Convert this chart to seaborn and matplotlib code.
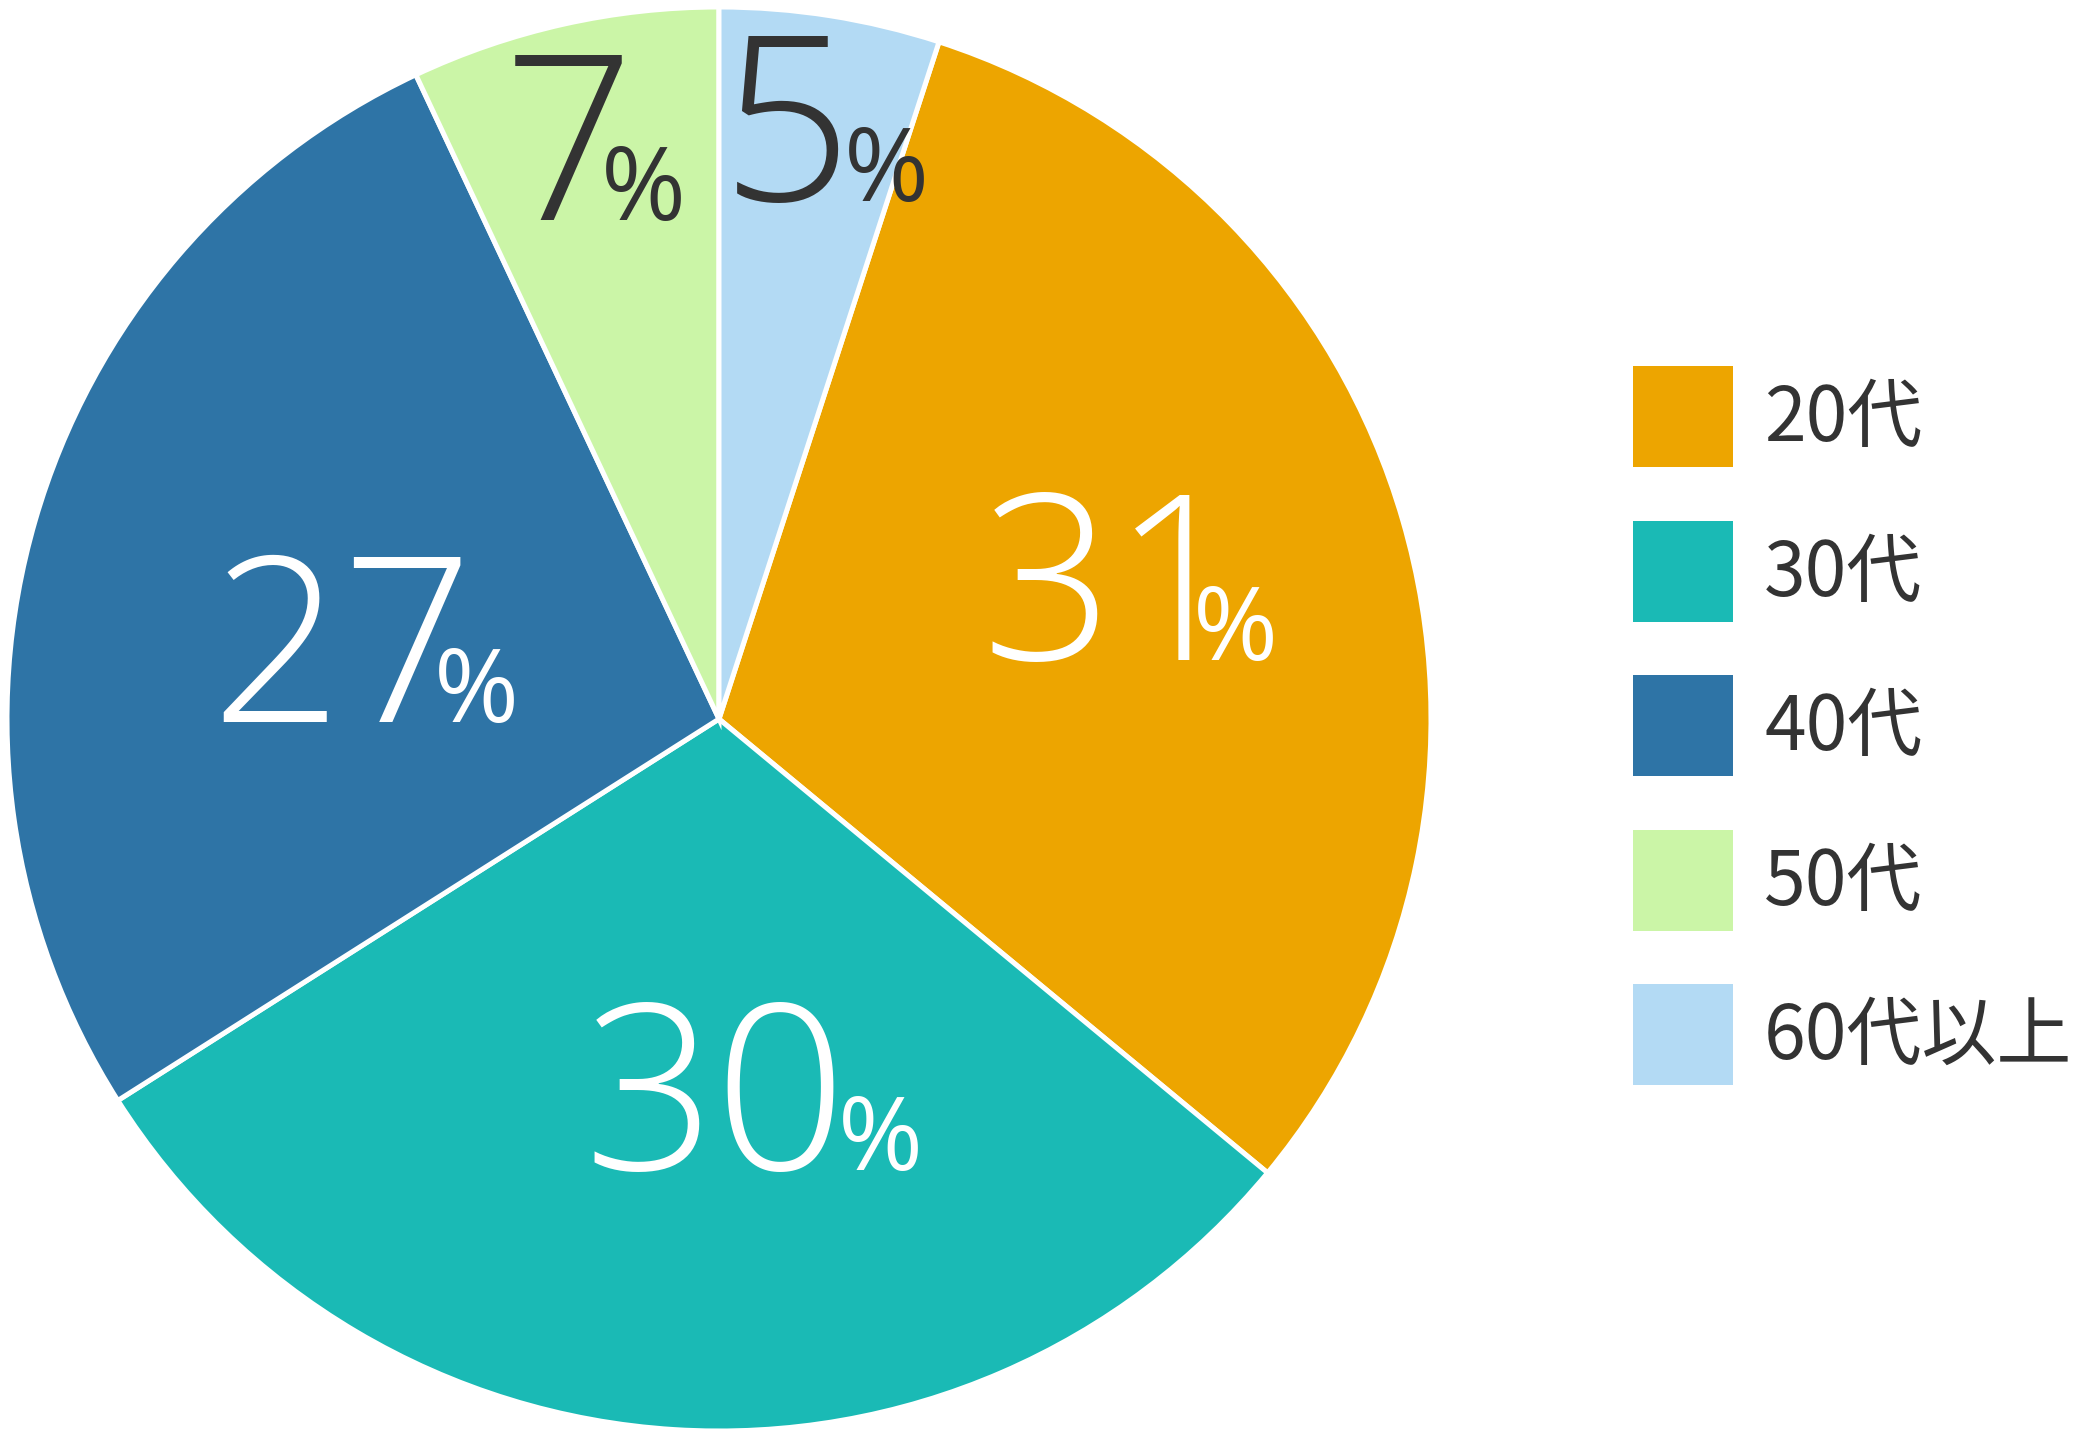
import matplotlib
matplotlib.use("Agg")
import matplotlib.pyplot as plt
from matplotlib.patches import Patch
import seaborn as sns
import numpy as np

# data
labels = ["20代", "30代", "40代", "50代", "60代以上"]
shares = [31, 30, 27, 7, 5]
colors = ["#EDA500", "#1ABAB5", "#2E74A6", "#CBF5A7", "#B3DAF4"]
text_colors = ["white", "white", "white", "#333333", "#333333"]
# label radius (fraction of pie radius), angle nudge in degrees, gap number -> % (px)
label_r = [0.61, 0.52, 0.51, 0.835, 0.857]
label_nudge = [2.8, 8.9, 3.6, -0.5, -1.0]
label_gap = [-52, -8, -39, -34, -9]

sns.set_theme(style="white")
plt.rcParams["font.family"] = ["Noto Sans CJK JP", "DejaVu Sans"]

W, H = 2091, 1438
fig = plt.figure(figsize=(W / 100, H / 100), dpi=100)
# pie axes: circle centre (719, 719) px, radius 712 px
cx, cy, R = 719, 719, 712
ax = fig.add_axes([(cx - R) / W, (H - cy - R) / H, 2 * R / W, 2 * R / H])

start = 90 - shares[-1] * 3.6
wedges, _ = ax.pie(shares, colors=colors, startangle=start, counterclock=False,
                   radius=1, wedgeprops=dict(edgecolor="white", linewidth=3.6))
ax.set_xlim(-1, 1)
ax.set_ylim(-1, 1)
ax.set_aspect("equal")
ax.axis("off")

num_size = 166
pct_size = 74
cap = 165 / R   # digit cap height in data units

texts = []
for i, w in enumerate(wedges):
    mid = np.deg2rad((w.theta1 + w.theta2) / 2 + label_nudge[i])
    x = label_r[i] * np.cos(mid)
    y = label_r[i] * np.sin(mid)
    base = y - cap / 2
    t1 = ax.text(x, base, str(shares[i]), ha="right", va="baseline", family="Open Sans",
                 fontsize=num_size, color=text_colors[i], fontweight="light")
    t2 = ax.text(x, base, "%", ha="left", va="baseline", family="Open Sans",
                 fontsize=pct_size, color=text_colors[i])
    texts.append((x, label_gap[i] / R, t1, t2))

fig.canvas.draw()
r = fig.canvas.get_renderer()
for x, gap, t1, t2 in texts:
    w1 = t1.get_window_extent(r).width
    w2 = t2.get_window_extent(r).width
    # shift so that the combined label is centred on x
    dx = (w1 - w2) / 2 / R
    t1.set_x(x + dx - gap / 2)
    t2.set_x(x + dx + gap / 2)

handles = [Patch(facecolor=c, edgecolor="none") for c in colors]
leg = fig.legend(handles, labels, loc="upper left",
                 bbox_to_anchor=(1633 / W, 1 - 366 / H), borderaxespad=0,
                 frameon=False, fontsize=54, handlelength=1.33, handleheight=1.7,
                 labelspacing=0.71, handletextpad=0.42, borderpad=0,
                 labelcolor="#333333")

fig.savefig("out.png", dpi=100)
